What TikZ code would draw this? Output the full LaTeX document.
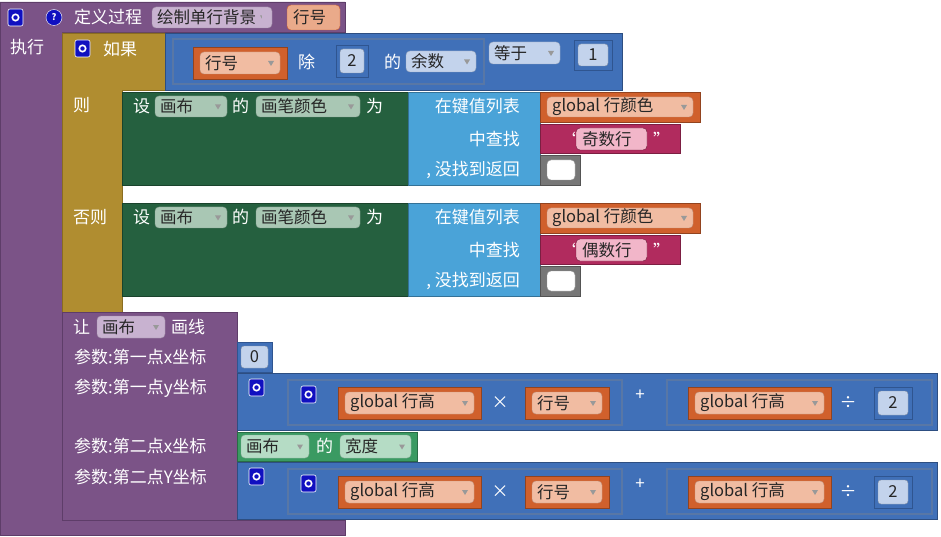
\documentclass[tikz,border=0pt]{standalone}
\usepackage{fontspec}
\setmainfont{Noto Sans CJK SC}
\definecolor{proc}{HTML}{7B5387}
\definecolor{procD}{HTML}{5E3D69}
\definecolor{ctrl}{HTML}{B08D30}
\definecolor{ctrlD}{HTML}{8A6D20}
\definecolor{mathb}{HTML}{4070B8}
\definecolor{mathD}{HTML}{2F5590}
\definecolor{setg}{HTML}{25603F}
\definecolor{lkup}{HTML}{4AA3D8}
\definecolor{org}{HTML}{D0602C}
\definecolor{orgL}{HTML}{F1BCA2}
\definecolor{mag}{HTML}{B12B5E}
\definecolor{magL}{HTML}{F2B6C9}
\definecolor{cg}{HTML}{3A9A62}
\definecolor{cgL}{HTML}{B5DCC5}
\definecolor{numL}{HTML}{C3D3EC}
\definecolor{procL}{HTML}{C8B2D0}
\definecolor{setL}{HTML}{A9C7B4}
\definecolor{icon}{HTML}{1010C0}
\definecolor{grayb}{HTML}{777777}
\tikzset{wt/.style={text=white,font=\fontsize{17}{18}\selectfont,anchor=west,inner sep=0pt},
dk/.style={text=black!85,font=\fontsize{16.5}{18}\selectfont,anchor=west,inner sep=0pt}}
\newcommand\blk[5]{\filldraw[fill=#5,draw=#5!70!black,line width=0.6pt] (#1,#2) rectangle (#3,#4);}
\newcommand\dd[6]{\filldraw[fill=#5,draw=#5!80!black,rounded corners=4pt,line width=0.4pt] (#1,#2) rectangle (#3,#4);
\node[dk] at (#1+5,{(#2+#4)/2}) {#6};
\fill[black!40] (#3-12,{(#2+#4)/2-2}) -- (#3-6,{(#2+#4)/2-2}) -- (#3-9,{(#2+#4)/2+3}) -- cycle;}
\newcommand\num[5]{\filldraw[fill=mathb,draw=mathD,line width=0.6pt] (#1,#2) rectangle (#3,#4);
\filldraw[fill=numL,draw=numL!70!black,rounded corners=3pt] (#1+4,#2+4) rectangle (#3-4,#4-4);
\node[dk,anchor=center] at ({(#1+#3)/2},{(#2+#4)/2}) {#5};}
\newcommand\og[5]{\blk{#1}{#2}{#3}{#4}{org}\dd{#1+7}{#2+5}{#3-7}{#4-5}{orgL}{#5}}
\newcommand\gear[2]{\filldraw[fill=icon,draw=white,rounded corners=2pt,line width=0.6pt] (#1,#2) rectangle (#1+15,#2+17);
\draw[white,line width=1.6pt] (#1+7.5,#2+8.5) circle (3.2pt);}
\begin{document}
\begin{tikzpicture}[x=1pt,y=-1pt]
\useasboundingbox (0,0) rectangle (941,537);
\filldraw[fill=proc,draw=procD] (0,2) -- (345,2) -- (345,32) -- (62,32) -- (62,520) -- (345,520) -- (345,535) -- (0,535) -- cycle;
\gear{8}{9}
\filldraw[fill=icon,draw=white] (54,17.5) circle (8pt); \node[text=white,font=\bfseries\small] at (54,17.5) {?};
\node[wt] (def) at (74,17) {定义过程};
\dd{152}{7}{272}{28}{procL}{绘制单行背景}
\fill[procL] (262,12) rectangle (270,24);
\filldraw[fill=orgL!80!org,draw=org,rounded corners=4pt] (287,5) rectangle (340,30); \node[dk] at (293,17.5) {行号};
\node[wt] at (10,47) {执行};
\filldraw[fill=ctrl,draw=ctrlD] (62,33) -- (165,33) -- (165,90) -- (122,90) -- (122,312) -- (62,312) -- cycle;
\gear{75}{40}
\node[wt] at (103,49) {如果};
\node[wt] at (73,105) {则};
\node[wt] at (73,217) {否则};
\blk{165}{33}{622}{90}{mathb}
\draw[mathD!80!white,line width=1.5pt] (173,39) rectangle (484,84);
\og{193}{47}{287}{79}{行号}
\node[wt] at (298,62) {除};
\num{336}{45}{368}{77}{2}
\node[wt] at (384,62) {的};
\dd{406}{51}{476}{72}{numL}{余数}
\dd{489}{42}{560}{64}{numL}{等于}
\num{574}{40}{612}{70}{1}
\foreach \oy/\txt in {0/奇数行,111/偶数行}{
\blk{122}{92+\oy}{408}{185+\oy}{setg}
\node[wt] at (133,106+\oy) {设};
\dd{155}{96+\oy}{227}{117+\oy}{setL}{画布}
\node[wt] at (232,106+\oy) {的};
\dd{256}{96+\oy}{360}{117+\oy}{setL}{画笔颜色}
\node[wt] at (366,106+\oy) {为};
\blk{408}{92+\oy}{540}{185+\oy}{lkup}
\node[wt,anchor=east] at (520,106+\oy) {在键值列表};
\node[wt,anchor=east] at (520,139+\oy) {中查找};
\node[wt,anchor=east] at (520,170+\oy) {, 没找到返回};
\og{540}{92+\oy}{700}{122+\oy}{global 行颜色}
\blk{540}{124+\oy}{680}{153+\oy}{mag}
\node[wt] at (562,139+\oy) {“};
\filldraw[fill=magL,draw=mag!60!black,rounded corners=4pt] (576,128+\oy) rectangle (647,150+\oy);
\node[dk] at (582,139+\oy) {\txt};
\node[wt] at (653,139+\oy) {”};
\blk{540}{155+\oy}{580}{185+\oy}{grayb}
\filldraw[fill=white,draw=black!40,rounded corners=4pt] (547,160+\oy) rectangle (575,180+\oy);
}
\filldraw[fill=proc,draw=procD] (62,312) rectangle (237,520);
\node[wt] at (73,327) {让};
\dd{97}{316}{165}{338}{procL}{画布}
\node[wt] at (171,327) {画线};
\node[wt] at (74,357) {参数:第一点x坐标};
\node[wt] at (74,388) {参数:第一点y坐标};
\node[wt] at (74,446) {参数:第二点x坐标};
\node[wt] at (74,477) {参数:第二点Y坐标};
\num{237}{342}{272}{372}{0}
\foreach \oy in {0,89}{
\blk{237}{373+\oy}{937}{430+\oy}{mathb}
\gear{249}{379+\oy}
\draw[mathD!80!white,line width=1.5pt] (288,380+\oy) rectangle (622,425+\oy);
\gear{301}{386+\oy}
\og{338}{387+\oy}{481}{419+\oy}{global 行高}
\node[wt,anchor=center] at (500,403+\oy) {×};
\og{525}{387+\oy}{609}{419+\oy}{行号}
\node[wt,anchor=center] at (640,395+\oy) {+};
\draw[mathD!80!white,line width=1.5pt] (667,380+\oy) rectangle (932,425+\oy);
\og{688}{387+\oy}{831}{419+\oy}{global 行高}
\node[wt,anchor=center] at (848,403+\oy) {÷};
\num{874}{387+\oy}{912}{419+\oy}{2}
}
\blk{237}{432}{417}{461}{cg}
\dd{241}{435}{309}{458}{cgL}{画布}
\node[wt] at (316,446) {的};
\dd{340}{435}{411}{458}{cgL}{宽度}
\end{tikzpicture}
\end{document}
